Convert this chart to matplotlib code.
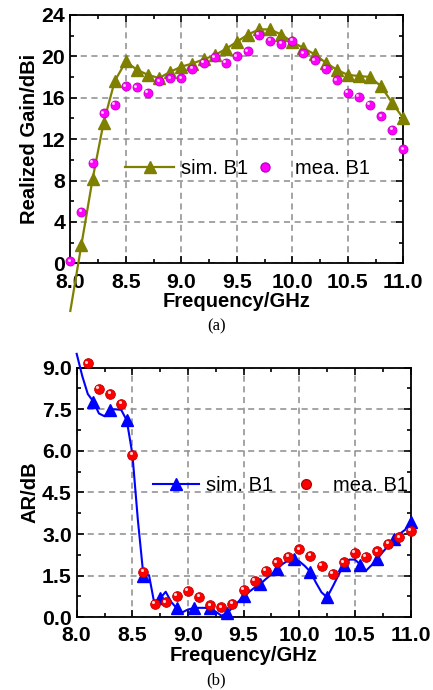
import matplotlib
matplotlib.use("Agg")
import matplotlib.pyplot as plt
import numpy as np
from matplotlib.transforms import offset_copy
from matplotlib.ticker import MultipleLocator

plt.rcParams['font.family'] = ['Liberation Sans', 'DejaVu Sans']

# ---------------- data (a) ----------------
freq_a = [8.0, 8.1, 8.2, 8.3, 8.4, 8.5, 8.6, 8.7, 8.8, 8.9, 9.0, 9.1, 9.2, 9.3, 9.4,
          9.5, 9.6, 9.7, 9.8, 9.9, 10.0, 10.1, 10.2, 10.3, 10.4, 10.5, 10.6, 10.7,
          10.8, 10.9, 11.0]
sim_gain = [-4.6, 1.8, 8.1, 13.6, 17.6, 19.5, 18.7, 18.2, 17.9, 18.5, 19.0, 19.3, 19.7,
            20.1, 20.7, 21.4, 22.1, 22.6, 22.6, 22.1, 21.4, 20.8, 20.2, 19.4, 18.7,
            18.2, 18.1, 18.0, 17.1, 15.5, 14.0]
mea_gain = [0.2, 5.0, 9.7, 14.5, 15.3, 17.1, 17.0, 16.5, 17.6, 17.9, 17.9, 18.8, 19.4,
            19.9, 19.4, 20.0, 20.5, 22.1, 21.5, 21.2, 21.5, 20.3, 19.6, 18.8, 17.7,
            16.5, 16.1, 15.3, 14.2, 12.9, 11.0]

# ---------------- data (b) ----------------
freq_sim_b = [8.00, 8.05, 8.10, 8.15, 8.20, 8.25, 8.30, 8.35, 8.40, 8.45, 8.50, 8.55,
              8.60, 8.65, 8.70, 8.75, 8.80, 8.85, 8.90, 8.95, 9.00, 9.05, 9.10, 9.15,
              9.20, 9.25, 9.30, 9.35, 9.40, 9.45, 9.50, 9.55, 9.60, 9.65, 9.70, 9.75,
              9.80, 9.85, 9.90, 9.95, 10.00, 10.05, 10.10, 10.15, 10.20, 10.25, 10.30,
              10.35, 10.40, 10.45, 10.50, 10.55, 10.60, 10.65, 10.70, 10.75, 10.80,
              10.85, 10.90, 10.95, 11.00]
sim_ar = [9.5, 8.7, 8.05, 7.78, 7.35, 7.25, 7.49, 7.50, 7.48, 7.10, 5.9, 3.5,
          1.49, 1.52, 0.45, 0.68, 0.92, 0.55, 0.32, 0.18, 0.28, 0.33, 0.34, 0.34,
          0.32, 0.20, 0.06, 0.14, 0.35, 0.55, 0.77, 0.92, 1.07, 1.20, 1.38, 1.55,
          1.74, 1.92, 2.05, 2.09, 2.02, 1.85, 1.64, 1.25, 0.90, 0.72, 1.10,
          1.50, 1.90, 2.08, 2.08, 1.90, 1.68, 1.88, 2.10, 2.35, 2.58,
          2.82, 3.00, 3.15, 3.44]
freq_mea_b = [8.1, 8.2, 8.3, 8.4, 8.5, 8.6, 8.7, 8.8, 8.9, 9.0, 9.1, 9.2, 9.3, 9.4,
              9.5, 9.6, 9.7, 9.8, 9.9, 10.0, 10.1, 10.2, 10.3, 10.4, 10.5, 10.6, 10.7,
              10.8, 10.9, 11.0]
mea_ar = [9.16, 8.24, 8.06, 7.70, 5.86, 1.64, 0.48, 0.54, 0.78, 0.96, 0.74, 0.44, 0.36,
          0.48, 1.00, 1.31, 1.68, 1.99, 2.18, 2.45, 2.22, 1.85, 1.56, 1.98, 2.32, 2.18,
          2.38, 2.66, 2.88, 3.12]

xticks = [8.0, 8.5, 9.0, 9.5, 10.0, 10.5, 11.0]
yticks_a = [0, 4, 8, 12, 16, 20, 24]
yticks_b = [0.0, 1.5, 3.0, 4.5, 6.0, 7.5, 9.0]

FS = 14.5
TFS = 15.3
fig = plt.figure(figsize=(4.33, 6.9), dpi=100)
ax1 = fig.add_axes([0.1624, 0.6184, 0.769, 0.3600])
ax2 = fig.add_axes([0.1771, 0.1054, 0.771, 0.3617])


def style(ax, yticks, ymin, ymax, yminor, yfmt, xlabelpad, xpad):
    ax.set_xlim(8.0, 11.0)
    ax.set_ylim(ymin, ymax)
    ax.set_xticks(xticks)
    ax.set_xticklabels(["%.1f" % v for v in xticks])
    ax.set_yticks(yticks)
    ax.set_yticklabels([yfmt % v for v in yticks])
    ax.xaxis.set_minor_locator(MultipleLocator(0.25))
    ax.yaxis.set_minor_locator(MultipleLocator(yminor))
    ax.tick_params(which='both', direction='in', top=True, right=True,
                   width=1.2, labelsize=TFS)
    ax.tick_params(axis='x', which='major', pad=xpad)
    ax.tick_params(axis='y', which='major', pad=3.5)
    ax.tick_params(which='major', length=5)
    ax.tick_params(which='minor', length=3)
    for lab in ax.get_xticklabels() + ax.get_yticklabels():
        lab.set_fontweight('bold')
    for s in ax.spines.values():
        s.set_linewidth(1.3)
    ax.grid(True, which='major', color='#8c8c8c', linestyle=(0, (4, 3)), linewidth=1.1)
    ax.set_axisbelow(True)
    ax.set_xlabel('Frequency/GHz', fontsize=FS, fontweight='bold', labelpad=xlabelpad)


def balls(ax, x, y, base, edge, ms):
    ax.plot(x, y, 'o', ms=ms, mfc=base, mec=edge, mew=0.6, clip_on=False, zorder=4)
    tr = offset_copy(ax.transData, fig=fig, x=-1.1, y=1.1, units='points')
    ax.plot(x, y, 'o', ms=ms * 0.32, mfc='white', mec='none', alpha=0.85,
            transform=tr, clip_on=False, zorder=5)


# ---------------- (a) ----------------
style(ax1, yticks_a, 0, 24, 2, "%d", 0, 7.2)
ax1.set_ylabel('Realized Gain/dBi', fontsize=FS, fontweight='bold', labelpad=2)
olive = '#7f7f00'
ax1.plot(freq_a, sim_gain, '-', color=olive, lw=1.6, marker='^', ms=8,
         mfc=olive, mec=olive, markevery=slice(1, None), clip_on=False, zorder=3)
balls(ax1, freq_a, mea_gain, '#ff00ff', '#c000c0', 6.5)

h1, = ax1.plot([], [], '-', color=olive, lw=1.6, marker='^', ms=8, mfc=olive, mec=olive)
h2, = ax1.plot([], [], 'o', ms=6.5, mfc='#ff00ff', mec='#c000c0')
leg1 = ax1.legend([h1], ['sim. B1'], loc='center left', bbox_to_anchor=(0.164, 0.38),
                  frameon=False, fontsize=FS, handlelength=2.45, handletextpad=0.35,
                  borderpad=0, borderaxespad=0)
ax1.add_artist(leg1)
ax1.legend([h2], ['mea. B1'], loc='center left', bbox_to_anchor=(0.555, 0.38),
           frameon=False, fontsize=FS, handlelength=1.0, handletextpad=1.0,
           borderpad=0, borderaxespad=0)

# ---------------- (b) ----------------
style(ax2, yticks_b, 0, 9.0, 0.75, "%.1f", 1, 6.0)
ax2.set_ylabel('AR/dB', fontsize=FS, fontweight='bold', labelpad=2)
blue = '#0000ff'
ax2.plot(freq_sim_b, sim_ar, '-', color=blue, lw=1.5, marker='^', ms=8,
         mfc=blue, mec=blue, markevery=slice(3, None, 3), clip_on=False, zorder=3)
balls(ax2, freq_mea_b, mea_ar, '#ff0000', '#c00000', 7)

g1, = ax2.plot([], [], '-', color=blue, lw=1.5, marker='^', ms=8, mfc=blue, mec=blue)
g2, = ax2.plot([], [], 'o', ms=7, mfc='#ff0000', mec='#c00000')
leg2 = ax2.legend([g1], ['sim. B1'], loc='center left', bbox_to_anchor=(0.228, 0.527),
                  frameon=False, fontsize=FS, handlelength=2.3, handletextpad=0.35,
                  borderpad=0, borderaxespad=0)
ax2.add_artist(leg2)
ax2.legend([g2], ['mea. B1'], loc='center left', bbox_to_anchor=(0.658, 0.527),
           frameon=False, fontsize=FS, handlelength=1.0, handletextpad=0.8,
           borderpad=0, borderaxespad=0)

fig.text(216.7 / 433, 1 - 326.7 / 690, '(a)', ha='center', va='center',
         fontsize=12, family=['Liberation Serif', 'DejaVu Serif'])
fig.text(216.0 / 433, 1 - 680.0 / 690, '(b)', ha='center', va='center',
         fontsize=12, family=['Liberation Serif', 'DejaVu Serif'])

fig.savefig('out.png', dpi=100)
